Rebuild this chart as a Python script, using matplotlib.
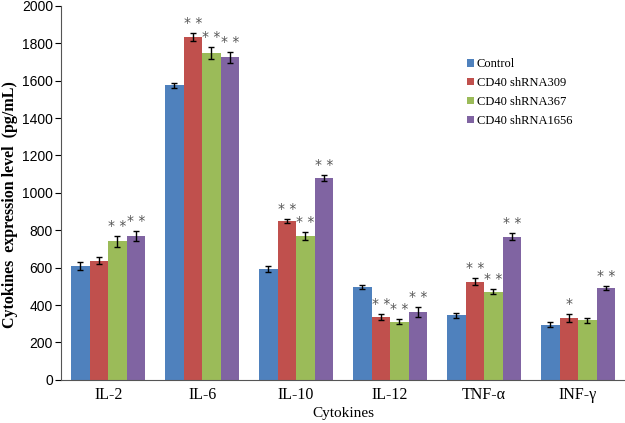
import numpy as np
import matplotlib.pyplot as plt

cytokines = ['IL-2', 'IL-6', 'IL-10', 'IL-12', 'TNF-α', 'INF-γ']
groups = ['Control', 'CD40 shRNA309', 'CD40 shRNA367', 'CD40 shRNA1656']
control = [607, 1575, 595, 495, 345, 295]
sh309 = [637, 1835, 850, 335, 525, 332]
sh367 = [740, 1750, 770, 312, 472, 318]
sh1656 = [768, 1725, 1080, 362, 765, 490]
err_control = [22, 14, 16, 10, 14, 14]
err_309 = [20, 20, 12, 15, 20, 22]
err_367 = [30, 32, 22, 12, 15, 14]
err_1656 = [26, 30, 14, 28, 18, 10]
sig_309 = ['', '**', '**', '**', '**', '*']
sig_367 = ['**', '**', '**', '**', '**', '']
sig_1656 = ['**', '**', '**', '**', '**', '**']
sig_control = ['', '', '', '', '', '']

colors = ['#4F81BD', '#C0504D', '#9BBB59', '#8064A2']
values = [control, sh309, sh367, sh1656]
errs = [err_control, err_309, err_367, err_1656]
sigs = [sig_control, sig_309, sig_367, sig_1656]

fig = plt.figure(figsize=(6.25, 4.23), dpi=100)
ax = fig.add_axes([0.098, 0.102, 0.902, 0.884])

x = np.arange(len(cytokines))
w = 0.197
for i in range(4):
    pos = x + (i - 1.5) * w
    ax.bar(pos, values[i], w, color=colors[i], label=groups[i],
           yerr=errs[i], capsize=2.5, error_kw=dict(elinewidth=1, capthick=1, ecolor='black'))
    for p, v, e, s in zip(pos, values[i], errs[i], sigs[i]):
        if s:
            s = ' '.join(s)
            ax.text(p, v + e + 16, s, ha='center', va='bottom', fontsize=10,
                    color='#555555', family='DejaVu Sans')

ax.set_xlim(-0.5, 5.5)
ax.set_ylim(0, 2000)
ax.set_yticks(range(0, 2001, 200))
ax.tick_params(axis='y', labelsize=10, length=4, direction='out', pad=2)
ax.tick_params(axis='x', length=0, pad=5)
ax.set_xticks(x)
ax.set_xticklabels(cytokines, family='Liberation Serif', fontsize=11.5)
for lab in ax.get_yticklabels():
    lab.set_family('Liberation Sans')
ax.spines['top'].set_visible(False)
ax.spines['right'].set_visible(False)
ax.spines['left'].set_color('#555555')
ax.spines['bottom'].set_color('#555555')

ax.set_ylabel('Cytokines  expression level  (pg/mL)', family='Liberation Serif',
              fontweight='bold', fontsize=11.5, va='center')
ax.yaxis.set_label_coords(-0.091, 0.47)
ax.set_xlabel('Cytokines', family='Liberation Serif', fontsize=11, labelpad=3)

ax.legend(loc='upper left', bbox_to_anchor=(0.72, 0.86), frameon=False,
          prop={'family': 'Liberation Serif', 'size': 9}, handlelength=0.55,
          handleheight=0.55, handletextpad=0.2, labelspacing=0.55,
          borderaxespad=0, borderpad=0)

fig.savefig('out.png', dpi=100)
